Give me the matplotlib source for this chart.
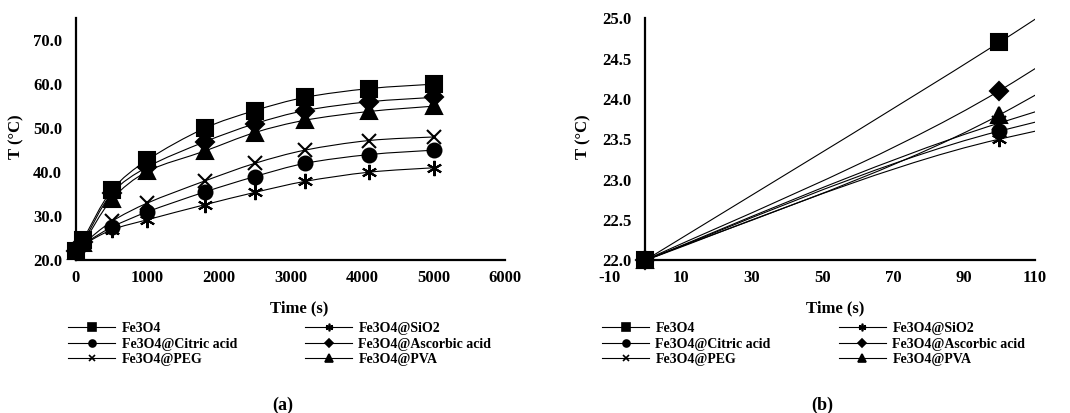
import numpy as np
import matplotlib
matplotlib.use('Agg')
import matplotlib.pyplot as plt
from matplotlib.path import Path
from matplotlib.patches import PathPatch
from matplotlib.lines import Line2D
from matplotlib.ticker import FormatStrFormatter

plt.rcParams['font.family'] = ['Liberation Serif', 'DejaVu Serif']
plt.rcParams['font.weight'] = 'bold'
plt.rcParams['axes.unicode_minus'] = False

#==============================================================================#
# heating data
time_s   = [0, 100, 500, 1000, 1800, 2500, 3200, 4100, 5000]
fe3o4    = [22, 24.7, 35.9, 42.8, 50.0, 54.0, 57.0, 59.0, 60.0]
sio2     = [22, 23.5, 26.9, 29.2, 32.6, 35.4, 37.9, 40.0, 41.0]
citric   = [22, 23.6, 27.5, 31.0, 35.5, 39.0, 42.0, 44.0, 45.0]
ascorbic = [22, 24.1, 35.2, 41.2, 46.9, 51.0, 54.0, 56.0, 57.0]
peg      = [22, 23.7, 28.8, 33.0, 38.0, 42.0, 45.0, 47.2, 48.0]
pva      = [22, 23.8, 33.8, 40.2, 44.8, 49.0, 51.8, 53.8, 55.0]

labels = ['Fe3O4', 'Fe3O4@SiO2', 'Fe3O4@Citric acid',
          'Fe3O4@Ascorbic acid', 'Fe3O4@PEG', 'Fe3O4@PVA']
series = [fe3o4, sio2, citric, ascorbic, peg, pva]
markers = ['s', (6, 2, 0), 'o', 'D', 'x', '^']
msizes = [11, 11, 10, 9, 10, 11]


# excel-like smoothed line: cubic bezier built in screen space,
# tangent arms limited to a third of the segment length
def smooth_path(ax, x, y):
    P = ax.transData.transform(np.column_stack([x, y]).astype(float))
    n = len(P)
    verts = [P[0]]
    codes = [Path.MOVETO]
    for i in range(n - 1):
        p0 = P[max(i - 1, 0)]
        p1 = P[i]
        p2 = P[i + 1]
        p3 = P[min(i + 2, n - 1)]
        seg = np.hypot(*(p2 - p1))
        t1 = (p2 - p0) / 6.0
        t2 = (p3 - p1) / 6.0
        for t in (t1, t2):
            ln = np.hypot(*t)
            if ln > seg / 3.0:
                t *= (seg / 3.0) / ln
        verts += [p1 + t1, p2 - t2, p2]
        codes += [Path.CURVE4] * 3
    verts = ax.transData.inverted().transform(np.array(verts))
    return Path(verts, codes)


def style_panel(ax):
    for side in ['top', 'right']:
        ax.spines[side].set_visible(False)
    for side in ['left', 'bottom']:
        ax.spines[side].set_linewidth(1.6)
    ax.tick_params(length=0, labelsize=12)
    ax.tick_params(axis='y', pad=10)
    ax.tick_params(axis='x', pad=7)
    ax.yaxis.set_major_formatter(FormatStrFormatter('%.1f'))


def draw_series(ax, xmax_view):
    t = np.array(time_s)
    for y, m, ms in zip(series, markers, msizes):
        ax.add_patch(PathPatch(smooth_path(ax, time_s, y), fill=False,
                               edgecolor='black', lw=0.8))
        y = np.array(y)
        keep = t <= xmax_view
        ax.plot(t[keep], y[keep], ls='none', marker=m, ms=ms, color='black',
                mec='black', mew=1.5, clip_on=False, zorder=5)


def add_legend(fig, x0):
    order = [0, 2, 4, 1, 3, 5]
    handles = [Line2D([], [], color='black', lw=0.8, marker=markers[i],
                      ms=msizes[i] * 0.5, mew=1.2) for i in order]
    fig.legend(handles, [labels[i] for i in order], ncol=2, frameon=False,
               loc='upper left', bbox_to_anchor=(x0, 0.221),
               borderpad=0, borderaxespad=0, handlelength=3.4,
               handletextpad=0.45, labelspacing=0.2, columnspacing=4.9,
               prop={'size': 10, 'weight': 'bold'})


fig = plt.figure(figsize=(10.70, 4.13), dpi=100)

# (a) full run
ax1 = fig.add_axes([0.071, 0.370, 0.401, 0.586])
style_panel(ax1)
ax1.set_xlim(0, 6000)
ax1.set_ylim(20, 75)
ax1.set_xticks(np.arange(0, 6001, 1000))
ax1.set_yticks(np.arange(20, 71, 10))
draw_series(ax1, 6000)

# (b) first 100 s
ax2 = fig.add_axes([0.570, 0.370, 0.397, 0.586])
style_panel(ax2)
ax2.set_xlim(-10, 110)
ax2.set_ylim(22, 25)
ax2.spines['left'].set_position(('data', 0))
ax2.spines['bottom'].set_bounds(0, 110)
ax2.set_xticks(np.arange(-10, 111, 20))
ax2.set_yticks(np.arange(22, 25.01, 0.5))
draw_series(ax2, 110)

for xl, xt in [(0.0155, 0.280), (0.545, 0.781)]:
    fig.text(xl, 0.67, 'T (°C)', rotation=90, ha='center', va='center',
             fontsize=12, fontweight='bold')
    fig.text(xt, 0.254, 'Time (s)', ha='center', va='center',
             fontsize=12, fontweight='bold')
add_legend(fig, 0.0636)
add_legend(fig, 0.5626)
fig.text(0.264, 0.019, '(a)', ha='center', va='center', fontsize=13,
         fontweight='bold')
fig.text(0.768, 0.019, '(b)', ha='center', va='center', fontsize=13,
         fontweight='bold')

fig.savefig('out.png', dpi=100)
